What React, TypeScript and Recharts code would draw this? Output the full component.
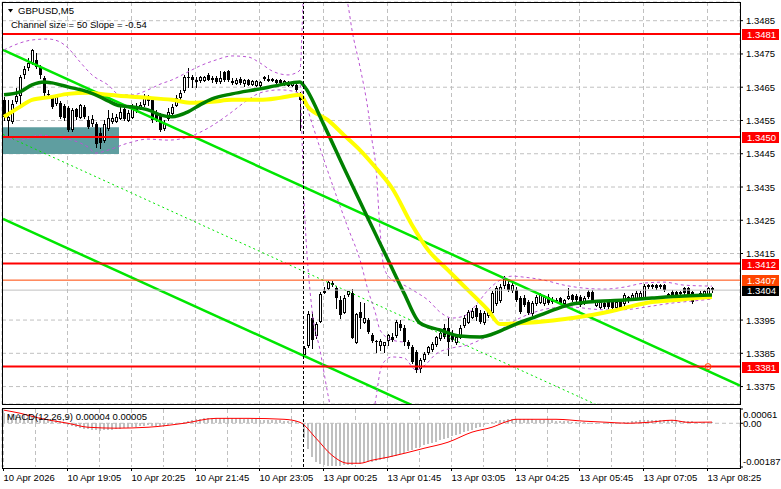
import React from 'react';
import {
  ComposedChart,
  Bar,
  Line,
  XAxis,
  YAxis,
  CartesianGrid,
  ReferenceLine,
  ReferenceArea,
  ReferenceDot,
} from 'recharts';

const FONT = "'Liberation Sans', Arial, sans-serif";

// GBPUSD M5 bars, one row per bar: [open, high, low, close]
const candles: number[][] = [
  // 10 Apr (Friday)
  [1.34612, 1.34621, 1.34551, 1.34561], [1.34551, 1.34612, 1.345, 1.34561], [1.34548, 1.34612, 1.34542, 1.346],
  [1.34609, 1.34648, 1.34603, 1.34624], [1.34627, 1.34687, 1.34597, 1.34681], [1.3469, 1.34714, 1.34678, 1.34705],
  [1.34711, 1.34738, 1.34702, 1.34723], [1.34726, 1.34765, 1.3472, 1.34762], [1.34732, 1.34753, 1.34708, 1.34711],
  [1.34711, 1.34717, 1.34678, 1.34687], [1.34678, 1.34684, 1.34621, 1.34633], [1.3463, 1.34642, 1.34618, 1.34627],
  [1.34618, 1.34627, 1.34588, 1.34591], [1.34603, 1.34627, 1.34597, 1.34621], [1.34603, 1.34609, 1.34557, 1.34561],
  [1.34594, 1.346, 1.34551, 1.34557], [1.34588, 1.34594, 1.34518, 1.34521], [1.34524, 1.34588, 1.34518, 1.34582],
  [1.34585, 1.34588, 1.34554, 1.34561], [1.34561, 1.346, 1.34557, 1.34597], [1.34591, 1.34597, 1.34557, 1.34561],
  [1.34551, 1.34564, 1.34527, 1.3453], [1.34542, 1.34567, 1.34533, 1.34554], [1.34539, 1.34545, 1.3447, 1.34479],
  [1.34512, 1.34527, 1.34467, 1.34482], [1.34491, 1.34551, 1.34485, 1.34539], [1.34527, 1.34582, 1.34521, 1.34557],
  [1.34548, 1.34573, 1.34542, 1.34557], [1.34548, 1.3457, 1.34545, 1.34561], [1.34557, 1.34591, 1.34554, 1.34576],
  [1.34585, 1.34594, 1.34551, 1.34554], [1.34551, 1.34582, 1.34548, 1.34573], [1.34561, 1.346, 1.34557, 1.34588],
  [1.34594, 1.34603, 1.34576, 1.34582], [1.34591, 1.34606, 1.34585, 1.34597], [1.346, 1.3463, 1.34594, 1.34618],
  [1.34618, 1.34627, 1.34597, 1.34609], [1.34612, 1.34621, 1.34545, 1.34551], [1.34573, 1.34582, 1.34548, 1.34554],
  [1.34564, 1.34573, 1.34518, 1.34521], [1.34527, 1.34551, 1.34521, 1.34542], [1.34557, 1.34588, 1.34551, 1.34576],
  [1.34573, 1.346, 1.3457, 1.34591], [1.34597, 1.34627, 1.34594, 1.34618], [1.34621, 1.34642, 1.34615, 1.34633],
  [1.34642, 1.34687, 1.34636, 1.34681], [1.34681, 1.34708, 1.34651, 1.34678], [1.34681, 1.34687, 1.34651, 1.34672],
  [1.34672, 1.34681, 1.34651, 1.34666], [1.34672, 1.34684, 1.34666, 1.34681], [1.34672, 1.34684, 1.34669, 1.34681],
  [1.34687, 1.34693, 1.34672, 1.34672], [1.34678, 1.34684, 1.34666, 1.34672], [1.34678, 1.34684, 1.34663, 1.34666],
  [1.34669, 1.34699, 1.34663, 1.34678], [1.34696, 1.34699, 1.34669, 1.34672], [1.34699, 1.34702, 1.34669, 1.34672],
  [1.34669, 1.34678, 1.3466, 1.34663], [1.34663, 1.34678, 1.3466, 1.34672], [1.34675, 1.34681, 1.3466, 1.34663],
  [1.34663, 1.34675, 1.34654, 1.34672], [1.34672, 1.34675, 1.34657, 1.34657], [1.3466, 1.34672, 1.34657, 1.34669],
  [1.34657, 1.34672, 1.34654, 1.34669], [1.34657, 1.34669, 1.34648, 1.34666], [1.34678, 1.34684, 1.34672, 1.3468],
  [1.34672, 1.34687, 1.34669, 1.34675], [1.34672, 1.34678, 1.34669, 1.34674], [1.34672, 1.34675, 1.3466, 1.34663],
  [1.34672, 1.34675, 1.3466, 1.34663], [1.3466, 1.34672, 1.34657, 1.34669], [1.34657, 1.34669, 1.34654, 1.34666],
  [1.34657, 1.34669, 1.34654, 1.34666], [1.34657, 1.3466, 1.34639, 1.34642], [1.3463, 1.34636, 1.34521, 1.34612],
  // 13 Apr (Monday)
  [1.33848, 1.33872, 1.33842, 1.33866], [1.33875, 1.33977, 1.33869, 1.33968], [1.33956, 1.33974, 1.33866, 1.3389],
  [1.33905, 1.33944, 1.33896, 1.33938], [1.33947, 1.34034, 1.33944, 1.34028], [1.34034, 1.34049, 1.34031, 1.34037],
  [1.34046, 1.34067, 1.34043, 1.34064], [1.34058, 1.34067, 1.34052, 1.34061], [1.34046, 1.34052, 1.33986, 1.34016],
  [1.3401, 1.34022, 1.33956, 1.33965], [1.33974, 1.34025, 1.33971, 1.34016], [1.34028, 1.34037, 1.34022, 1.34037],
  [1.34031, 1.34043, 1.33896, 1.33896], [1.33884, 1.33971, 1.33881, 1.33968], [1.33974, 1.34004, 1.33926, 1.33956],
  [1.33944, 1.34001, 1.33941, 1.33956], [1.3395, 1.33956, 1.33911, 1.33914], [1.33905, 1.33911, 1.33884, 1.33887],
  [1.33887, 1.3389, 1.33854, 1.33884], [1.33875, 1.33893, 1.3386, 1.33887], [1.33875, 1.33884, 1.33854, 1.33884],
  [1.3389, 1.33908, 1.33875, 1.33905], [1.33899, 1.33911, 1.33887, 1.3389], [1.33905, 1.3395, 1.33899, 1.33944],
  [1.33938, 1.3395, 1.3392, 1.33926], [1.33926, 1.33935, 1.33875, 1.33884], [1.33884, 1.3389, 1.33866, 1.33872],
  [1.33869, 1.33875, 1.33821, 1.33824], [1.33854, 1.3386, 1.33794, 1.338], [1.33806, 1.33836, 1.33794, 1.3383],
  [1.33833, 1.33854, 1.33827, 1.33848], [1.33854, 1.33872, 1.33848, 1.33869], [1.33863, 1.33884, 1.33857, 1.33878],
  [1.33878, 1.33902, 1.33872, 1.33899], [1.33896, 1.3392, 1.3389, 1.33911], [1.33926, 1.33938, 1.33896, 1.33899],
  [1.33926, 1.33956, 1.33845, 1.33884], [1.33911, 1.3392, 1.33887, 1.3389], [1.33884, 1.33905, 1.33878, 1.33899],
  [1.33899, 1.33935, 1.33896, 1.33926], [1.33935, 1.33965, 1.33929, 1.33956], [1.33944, 1.3398, 1.33941, 1.33974],
  [1.33959, 1.33986, 1.33956, 1.33977], [1.33986, 1.33995, 1.3395, 1.33959], [1.33971, 1.3398, 1.33941, 1.33944],
  [1.33944, 1.33977, 1.33938, 1.33971], [1.33965, 1.33983, 1.33959, 1.33977], [1.33974, 1.34037, 1.33968, 1.34031],
  [1.34001, 1.34052, 1.33995, 1.34046], [1.3401, 1.34058, 1.34004, 1.34049], [1.34055, 1.34082, 1.34046, 1.34073],
  [1.34058, 1.34067, 1.34037, 1.3404], [1.3404, 1.34061, 1.34034, 1.34055], [1.3404, 1.34049, 1.34007, 1.3401],
  [1.34016, 1.34022, 1.33971, 1.33974], [1.34016, 1.34025, 1.33992, 1.33995], [1.34004, 1.3401, 1.33968, 1.33971],
  [1.33971, 1.34007, 1.33965, 1.34001], [1.34001, 1.34025, 1.33995, 1.34019], [1.34004, 1.34031, 1.34001, 1.34025],
  [1.34001, 1.34025, 1.33995, 1.34019], [1.34019, 1.34028, 1.33998, 1.34001], [1.3401, 1.34019, 1.34001, 1.3401],
  [1.3401, 1.34016, 1.34004, 1.34008], [1.34016, 1.34019, 1.33998, 1.34001], [1.34001, 1.34013, 1.33998, 1.3401],
  [1.34016, 1.34046, 1.34013, 1.34022], [1.34025, 1.34028, 1.34007, 1.3401], [1.34022, 1.34028, 1.34007, 1.3401],
  [1.34019, 1.34025, 1.33992, 1.33995], [1.34001, 1.34022, 1.33998, 1.34016], [1.34034, 1.3404, 1.34016, 1.34019],
  [1.34034, 1.3404, 1.34007, 1.3401], [1.33995, 1.34007, 1.33992, 1.34004], [1.33989, 1.34007, 1.33986, 1.34004],
  [1.34001, 1.34007, 1.33986, 1.33989], [1.34004, 1.3401, 1.33986, 1.33989], [1.34004, 1.3401, 1.33983, 1.33986],
  [1.33989, 1.3401, 1.33986, 1.34004], [1.34004, 1.3401, 1.33983, 1.33986], [1.34001, 1.34031, 1.33995, 1.34025],
  [1.34019, 1.34022, 1.34004, 1.34019], [1.34016, 1.34031, 1.34013, 1.34025], [1.34016, 1.34037, 1.34013, 1.34031],
  [1.34019, 1.34037, 1.34016, 1.34031], [1.34019, 1.34058, 1.34016, 1.34052], [1.34055, 1.34058, 1.34046, 1.34055],
  [1.34055, 1.34058, 1.34046, 1.34055], [1.34055, 1.34058, 1.34043, 1.34046], [1.34055, 1.34058, 1.34046, 1.34055],
  [1.34055, 1.34058, 1.34037, 1.3404], [1.34028, 1.34031, 1.34019, 1.34028], [1.34034, 1.3404, 1.34022, 1.34025],
  [1.34034, 1.34037, 1.34022, 1.34025], [1.34034, 1.34037, 1.34025, 1.34034], [1.34046, 1.34049, 1.34028, 1.34031],
  [1.34046, 1.34049, 1.34022, 1.34025], [1.34034, 1.34037, 1.34001, 1.34004], [1.34025, 1.34028, 1.34016, 1.34025],
  [1.34019, 1.34037, 1.34016, 1.34031], [1.34025, 1.3404, 1.34022, 1.34037], [1.34025, 1.34049, 1.34022, 1.34046],
  [1.34046, 1.34049, 1.34034, 1.3404],
];

// moving averages, [bar, price]
const yellowMa: number[][] = [
  [0, 1.34561], [4, 1.34591], [7, 1.34612], [12, 1.34621], [16, 1.3463], [21, 1.34633], [26, 1.34627],
  [32, 1.34621], [36, 1.34618], [42, 1.34612], [47, 1.34603], [52, 1.34606], [57, 1.34612], [64, 1.34612],
  [69, 1.34618], [74, 1.34627], [76, 1.34591], [81, 1.34551], [85, 1.34506], [89, 1.34461], [93, 1.34407],
  [97, 1.34347], [102, 1.34236], [106, 1.34161], [111, 1.341], [116, 1.3404], [121, 1.3398], [124, 1.33938],
  [130, 1.33941], [136, 1.33947], [142, 1.33956], [147, 1.33965], [152, 1.33977], [157, 1.33992],
  [162, 1.34004], [168, 1.3401], [173, 1.34016], [177, 1.34019],
];
const greenMa: number[][] = [
  [0, 1.34627], [4, 1.34636], [7, 1.34657], [10, 1.34666], [12, 1.34663], [16, 1.34651], [21, 1.34636],
  [24, 1.34621], [26, 1.34609], [29, 1.34594], [32, 1.34591], [36, 1.34582], [39, 1.34567], [42, 1.34561],
  [46, 1.34576], [49, 1.34597], [52, 1.34615], [57, 1.3463], [64, 1.34645], [69, 1.34657], [74, 1.34666],
  [75, 1.34654], [80, 1.34536], [85, 1.34407], [90, 1.34281], [96, 1.34131], [100, 1.34031], [104, 1.33941],
  [109, 1.3392], [114, 1.33902], [119, 1.33899], [124, 1.33917], [128, 1.33938], [132, 1.33956],
  [136, 1.33974], [141, 1.33995], [146, 1.34004], [155, 1.3401], [162, 1.34016], [170, 1.34022], [177, 1.34025],
];

// bollinger bands, [bar, price]
const bandUpper: number[][] = [
  [0, 1.34762], [4, 1.34783], [7, 1.34792], [11, 1.34795], [14, 1.34786], [16, 1.34768], [19, 1.34726],
  [22, 1.34687], [26, 1.34657], [29, 1.34627], [32, 1.34627], [36, 1.34642], [39, 1.34659], [42, 1.34672],
  [46, 1.34696], [49, 1.34714], [53, 1.34732], [57, 1.34744], [61, 1.34741], [64, 1.34723], [67, 1.34699],
  [71, 1.34687], [73, 1.34693], [74, 1.34702], [75, 1.3494], [78, 1.3499], [81, 1.35], [84, 1.3496],
  [86, 1.34897], [87, 1.34822], [89, 1.34711], [91, 1.34582], [92, 1.34491], [93, 1.34407], [94, 1.34221],
  [95, 1.34107], [97, 1.34071], [100, 1.34055], [103, 1.34034], [106, 1.3401], [109, 1.33974],
  [112, 1.33956], [115, 1.33962], [118, 1.33995], [121, 1.3404], [124, 1.3407], [127, 1.34082],
  [130, 1.34079], [135, 1.3407], [140, 1.34055], [145, 1.34046], [150, 1.34043], [155, 1.34049],
  [160, 1.34061], [165, 1.34064], [170, 1.34055], [177, 1.34052],
];
const bandMiddle: number[][] = [
  [74, 1.34657], [80, 1.34431], [86, 1.34227], [89, 1.34131], [91, 1.3404], [93, 1.33965], [94, 1.3392],
  [97, 1.3389], [100, 1.33884],
];
const bandLower: number[][] = [
  [0, 1.345], [4, 1.34491], [9, 1.34506], [14, 1.34497], [17, 1.34491], [21, 1.3447], [23, 1.34452],
  [26, 1.34461], [31, 1.34482], [36, 1.34494], [41, 1.34491], [46, 1.345], [51, 1.34527], [56, 1.34567],
  [61, 1.34612], [64, 1.34633], [69, 1.34642], [73, 1.34636], [74, 1.34627], [75, 1.34311], [77, 1.3398],
  [79, 1.3386], [81, 1.33725], [82, 1.33665], [85, 1.3356], [88, 1.3354], [91, 1.3358], [92, 1.3365],
  [93, 1.33716], [94, 1.33794], [95, 1.33824], [97, 1.33839], [100, 1.33836], [103, 1.338], [105, 1.33812],
  [108, 1.33848], [112, 1.33866], [116, 1.33875], [120, 1.33896], [124, 1.3392], [128, 1.3395],
  [132, 1.33971], [137, 1.33986], [142, 1.33989], [147, 1.33983], [152, 1.3398], [157, 1.33983],
  [162, 1.33992], [167, 1.34001], [172, 1.34007], [177, 1.34013],
];

// regression channel (50 bars, slope -0.54): start and end of each line
const channelUpper = [[-0.25, 1.34762], [184, 1.33753]];
const channelMiddle = [[-0.25, 1.34508], [184, 1.33499]];
const channelLower = [[-0.25, 1.34254], [184, 1.33245]];

// MACD(12,26,9)
const macdHist: number[] = [
  0.00042, 0.0004, 0.00038, 0.00036, 0.00036, 0.00035, 0.00034, 0.00033, 0.0003, 0.00027, 0.00024, 0.0002,
  0.00016, 0.00012, 0.00008, -0.00004, -0.00008, -0.00012, -0.00016, -0.0002, -0.00023, -0.00026, -0.00028,
  -0.0003, -0.00031, -0.0003, -0.00029, -0.00027, -0.00025, -0.00023, -0.00021, -0.00019, -0.00017,
  -0.00015, -0.00013, -0.00011, -0.00009, -0.0001, -0.00012, -0.00012, -0.0001, -0.00007, -0.00004,
  -0.00001, 0.00003, 0.00007, 0.00011, 0.00014, 0.00017, 0.00019, 0.00021, 0.00022, 0.00023, 0.00023,
  0.00024, 0.00024, 0.00024, 0.00023, 0.00022, 0.00021, 0.0002, 0.00019, 0.00018, 0.00017, 0.00016,
  0.00016, 0.00015, 0.00014, 0.00013, 0.00012, 0.00011, 0.0001, 0.00009, 0.00008, 0.00006,
  -0.00064, -0.0011, -0.00145, -0.00165, -0.00175, -0.0018, -0.00183, -0.00184, -0.00184, -0.00182,
  -0.0018, -0.00179, -0.00177, -0.00175, -0.00173, -0.0017, -0.00167, -0.00164, -0.00161, -0.00157,
  -0.00154, -0.0015, -0.00144, -0.00138, -0.00132, -0.00126, -0.0012, -0.00114, -0.00107, -0.001,
  -0.00094, -0.00089, -0.00083, -0.00078, -0.00072, -0.00067, -0.00062, -0.00056, -0.00051, -0.00045,
  -0.00039, -0.00033, -0.00027, -0.00021, -0.00014, -0.00008, -0.00002, 0.00004, 0.00009, 0.00013,
  0.00016, 0.00018, 0.00019, 0.0002, 0.0002, 0.00019, 0.00018, 0.00017, 0.00016, 0.00015,
  0.00014, 0.00013, 0.00012, 0.00011, 0.0001, 0.00009, 0.00008, 0.00007, 0.00006, 0.00005,
  0.00004, 0.00003, 0.00002, 0.00001, 0, -0.00001, -0.00001, 0, 0.00001, 0.00002,
  0.00004, 0.00006, 0.00008, 0.0001, 0.00012, 0.00014, 0.00015, 0.00016, 0.00016, 0.00016,
  0.00015, 0.00014, 0.00013, 0.00012, 0.00011, 0.0001, 0.00009, 0.00008, 0.00007, 0.00006,
  0.00005, 0.00005, 0.00004,
];
const macdSignal: number[][] = [
  [0, 0.00056], [4, 0.00043], [9, 0.00021], [16, 0], [21, -0.00017], [28, -0.00021], [36, -0.00017],
  [45, 0], [53, 0.00021], [61, 0.00021], [70, 0.00017], [74, 0.00004], [78, -0.00064], [82, -0.00137],
  [86, -0.00171], [89, -0.00171], [92, -0.00158], [96, -0.00145], [105, -0.00107], [111, -0.00081],
  [117, -0.00038], [122, -0.00017], [126, 0.00009], [128, 0.00017], [138, 0.00017], [145, 0.00009],
  [151, 0.00004], [156, 0], [161, 0.00004], [167, 0.00013], [171, 0.00004], [177, 0.00005],
];

// levels
const redLevels = [1.3481, 1.345, 1.3412, 1.3381];
const askPrice = 1.3407;
const bidPrice = 1.3404;
const zoneBars = [-0.25, 28.75];
const zonePrices = [1.34449, 1.3453];
const alertMark = [176, 1.3381];

// axes
const priceTicks = [1.3375, 1.3385, 1.3395, 1.3415, 1.3425, 1.3435, 1.3445, 1.3455, 1.3465, 1.3475, 1.3485];
const macdTicks = [-0.00187, 0, 0.00061];
const timeLabels = [
  '10 Apr 2026', '10 Apr 19:05', '10 Apr 20:25', '10 Apr 21:45', '10 Apr 23:05', '13 Apr 00:25',
  '13 Apr 01:45', '13 Apr 03:05', '13 Apr 04:25', '13 Apr 05:45', '13 Apr 07:05', '13 Apr 08:25',
];
const labelBars = [-0.125, 15.875, 31.875, 47.875, 63.875, 79.875, 95.875, 111.875, 127.875, 143.875, 159.875, 175.875];
const gridBars = [
  -0.125, 7.875, 15.875, 23.875, 31.875, 39.875, 47.875, 55.875, 63.875, 71.875, 79.875, 87.875,
  95.875, 103.875, 111.875, 119.875, 127.875, 135.875, 143.875, 151.875, 159.875, 167.875, 175.875,
];
const dayBreak = 74.875;

const X_DOMAIN = [-0.5, 184];
const PRICE_DOMAIN = [1.336976, 1.349062];
const MACD_DOMAIN = [-0.00187, 0.00061];

const candleRows = candles.map((k, i) => ({ i, o: k[0], h: k[1], l: k[2], c: k[3], range: [k[2], k[1]] }));
const macdRows = macdHist.map((v, i) => ({ i, hist: v }));
const pts = (arr: number[][]) => arr.map(([i, v]) => ({ i, v }));

function CandleShape(props: any) {
  const { x, y, width, height, payload } = props;
  if (x == null || y == null) return null;
  const { o, h, l, c } = payload;
  const top = Math.min(y, y + height);
  const span = Math.abs(height);
  const yOf = (v: number) => top + ((h - v) / (h - l)) * span;
  const cx = Math.round(x + width / 2);
  const bTop = Math.round(yOf(Math.max(o, c)));
  const bBot = Math.round(yOf(Math.min(o, c)));
  const bull = c >= o;
  return (
    <g shapeRendering="crispEdges">
      <line x1={cx + 0.5} x2={cx + 0.5} y1={Math.round(top)} y2={Math.round(top + span) + 1} stroke="#000" />
      {bull ? (
        <rect x={cx - 0.5} y={bTop + 0.5} width={2} height={Math.max(bBot - bTop, 1)} fill="#fff" stroke="#000" />
      ) : (
        <rect x={cx - 1} y={bTop} width={3} height={Math.max(bBot - bTop, 1)} fill="#000" />
      )}
    </g>
  );
}

function HistShape(props: any) {
  const { x, y, width, height } = props;
  if (!height) return null;
  const cx = Math.round(x + width / 2);
  const top = Math.round(Math.min(y, y + height));
  const bot = Math.round(Math.max(y, y + height));
  return <rect x={cx - 1} y={top} width={2} height={Math.max(bot - top, 1)} fill="#c0c0c0" shapeRendering="crispEdges" />;
}

function PriceTick(props: any) {
  const { x, y, payload } = props;
  return (
    <g>
      <line x1={x} x2={x + 3} y1={y} y2={y} stroke="#000" />
      <text x={x + 6} y={y + 3.5} fontSize={9.5} fontFamily={FONT} fill="#000">
        {payload.value.toFixed(4)}
      </text>
    </g>
  );
}

function MacdTick(props: any) {
  const { x, y, payload } = props;
  const v = payload.value;
  const text = v === 0 ? '0.00' : v.toFixed(5);
  const dy = v > 0 ? 8.5 : v < 0 ? -2 : 3.7;
  return (
    <g>
      <line x1={x} x2={x + 3} y1={y} y2={y} stroke="#000" />
      <text x={x + 3} y={y + dy} fontSize={9.5} fontFamily={FONT} fill="#000">
        {text}
      </text>
    </g>
  );
}

function TimeTick(props: any) {
  const { x, y, payload } = props;
  const idx = labelBars.indexOf(payload.value);
  if (idx < 0) return <g />;
  return (
    <g>
      <line x1={x} x2={x} y1={y + 1} y2={y + 4} stroke="#000" />
      <text x={x} y={y + 13.5} fontSize={9.5} fontFamily={FONT} fill="#000">
        {timeLabels[idx]}
      </text>
    </g>
  );
}

function PriceTag(props: any) {
  const { viewBox, text, bg } = props;
  if (!viewBox) return null;
  const x = viewBox.x + viewBox.width + 2;
  const y = Math.round(viewBox.y);
  return (
    <g>
      <rect x={x} y={y - 5} width={37} height={11} fill={bg} />
      <text x={x + 5} y={y + 4} fontSize={9.5} fontFamily={FONT} fill="#fff">
        {text}
      </text>
    </g>
  );
}

export default function App() {
  return (
    <div style={{ position: 'absolute', left: 0, top: 0, width: 781, height: 489, background: '#fff', overflow: 'hidden' }}>
      <div style={{ position: 'absolute', left: 0, top: 0 }}>
        <ComposedChart width={781} height={405} data={candleRows} margin={{ top: 2, right: 0, bottom: 1, left: 2 }}>
          <CartesianGrid stroke="#c0c0c0" strokeDasharray="4 3" />
          <XAxis type="number" dataKey="i" domain={X_DOMAIN} ticks={gridBars} hide allowDataOverflow />
          <YAxis
            orientation="right"
            type="number"
            domain={PRICE_DOMAIN}
            ticks={priceTicks}
            interval={0}
            width={41}
            allowDataOverflow
            axisLine={false}
            tickLine={false}
            tickSize={0}
            tickMargin={0}
            tick={(p: any) => <PriceTick {...p} />}
          />
          <ReferenceArea
            x1={zoneBars[0]}
            x2={zoneBars[1]}
            y1={zonePrices[0]}
            y2={zonePrices[1]}
            fill="#5f9ea0"
            fillOpacity={1}
            stroke="none"
          />
          <ReferenceLine
            segment={channelUpper.map(([x, y]) => ({ x, y }))}
            stroke="#00e600"
            strokeWidth={2.5}
            ifOverflow="hidden"
          />
          <ReferenceLine
            segment={channelMiddle.map(([x, y]) => ({ x, y }))}
            stroke="#00e600"
            strokeWidth={1}
            strokeDasharray="2 3"
            ifOverflow="hidden"
          />
          <ReferenceLine
            segment={channelLower.map(([x, y]) => ({ x, y }))}
            stroke="#00e600"
            strokeWidth={2.5}
            ifOverflow="hidden"
          />
          <Bar dataKey="range" barSize={3} shape={CandleShape} isAnimationActive={false} />
          <Line data={pts(bandUpper)} dataKey="v" type="monotoneX" stroke="#ba55d3" strokeWidth={1} strokeDasharray="3 3" dot={false} isAnimationActive={false} />
          <Line data={pts(bandMiddle)} dataKey="v" type="monotoneX" stroke="#ba55d3" strokeWidth={1} strokeDasharray="3 3" dot={false} isAnimationActive={false} />
          <Line data={pts(bandLower)} dataKey="v" type="monotoneX" stroke="#ba55d3" strokeWidth={1} strokeDasharray="3 3" dot={false} isAnimationActive={false} />
          <Line data={pts(yellowMa)} dataKey="v" type="monotoneX" stroke="#ffff00" strokeWidth={4} dot={false} isAnimationActive={false} />
          <Line data={pts(greenMa)} dataKey="v" type="monotoneX" stroke="#008000" strokeWidth={3.5} dot={false} isAnimationActive={false} />
          <ReferenceLine x={dayBreak} stroke="#000" strokeDasharray="3 2" />
          <ReferenceLine y={bidPrice} stroke="#c0c0c0" label={<PriceTag text={bidPrice.toFixed(4)} bg="#000" />} />
          <ReferenceLine y={askPrice} stroke="#ff4500" label={<PriceTag text={askPrice.toFixed(4)} bg="#ff4500" />} />
          {redLevels.map((p) => (
            <ReferenceLine key={p} y={p} stroke="#ff0000" strokeWidth={2} label={<PriceTag text={p.toFixed(4)} bg="#ff0000" />} />
          ))}
          <ReferenceDot x={alertMark[0]} y={alertMark[1]} r={3} fill="none" stroke="#ff4500" />
        </ComposedChart>
      </div>

      <div style={{ position: 'absolute', left: 0, top: 404 }}>
        <ComposedChart width={781} height={85} data={macdRows} margin={{ top: 5, right: 0, bottom: 0, left: 2 }}>
          <CartesianGrid stroke="#c0c0c0" strokeDasharray="4 3" horizontal={false} />
          <XAxis
            type="number"
            dataKey="i"
            domain={X_DOMAIN}
            ticks={gridBars}
            interval={0}
            height={22}
            allowDataOverflow
            axisLine={false}
            tickLine={false}
            tickSize={0}
            tickMargin={0}
            tick={(p: any) => <TimeTick {...p} />}
          />
          <YAxis
            orientation="right"
            type="number"
            domain={MACD_DOMAIN}
            ticks={macdTicks}
            interval={0}
            width={41}
            allowDataOverflow
            axisLine={false}
            tickLine={false}
            tickSize={0}
            tickMargin={0}
            tick={(p: any) => <MacdTick {...p} />}
          />
          <ReferenceLine y={0} stroke="#c0c0c0" strokeDasharray="4 3" />
          <Bar dataKey="hist" barSize={2} shape={HistShape} isAnimationActive={false} />
          <Line data={pts(macdSignal)} dataKey="v" type="monotoneX" stroke="#ff0000" strokeWidth={1} dot={false} isAnimationActive={false} />
          <ReferenceLine x={dayBreak} stroke="#000" strokeDasharray="3 2" />
        </ComposedChart>
      </div>

      <svg width={781} height={489} style={{ position: 'absolute', left: 0, top: 0, pointerEvents: 'none' }}>
        <rect x={2.5} y={2.5} width={738} height={402} fill="none" stroke="#000" />
        <rect x={2.5} y={408.5} width={738} height={60} fill="none" stroke="#000" />
        <polygon points="8,9 13,9 10.5,12.5" fill="#000" />
        <text x={18} y={14} fontSize={9.5} fontFamily={FONT} fill="#000">GBPUSD,M5</text>
        <text x={11} y={28} fontSize={9.5} fontFamily={FONT} fill="#000">Channel size = 50 Slope = -0.54</text>
        <text x={7} y={420} fontSize={9.5} fontFamily={FONT} fill="#000">MACD(12,26,9) 0.00004 0.00005</text>
      </svg>
    </div>
  );
}
